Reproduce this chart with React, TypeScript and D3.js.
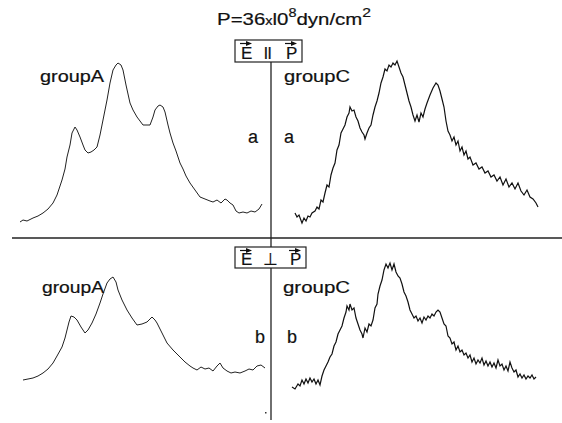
import React from "react";
import * as d3 from "d3";

// channel (x) vs intensity (y) for each trace
const groupA_par: [number, number][] = [
  [5, 3], [8, 5], [12, 4], [18, 7], [23, 9], [28, 12], [33, 16], [38, 22], [42, 30], [47, 45], [50, 56], [52, 68], [55, 80], [57, 92], [60, 98], [62, 95], [65, 88], [68, 80], [70, 75], [73, 72], [76, 73], [79, 75], [82, 78], [85, 90], [88, 105], [92, 125], [95, 142], [98, 155], [101, 160], [103, 162], [106, 160], [108, 155], [111, 140], [115, 122], [118, 115], [122, 108], [125, 104], [128, 100], [132, 100], [135, 100], [138, 108], [140, 115], [143, 119], [145, 120], [148, 118], [150, 113], [153, 100], [155, 92], [158, 82], [161, 74], [165, 62], [168, 56], [171, 49], [175, 42], [180, 35], [185, 28], [190, 26], [195, 24], [198, 23], [202, 25], [206, 22], [210, 26], [212, 25], [215, 22], [218, 20], [221, 14], [224, 12], [228, 13], [232, 12], [236, 14], [240, 13], [244, 16], [247, 21]
];

const groupC_par: [number, number][] = [
  [5, 12], [7, 8], [9, 10], [12, 2], [14, 7], [16, 4], [18, 9], [20, 8], [22, 12], [25, 14], [27, 18], [29, 16], [31, 25], [33, 23], [35, 32], [37, 40], [39, 38], [41, 50], [43, 57], [45, 62], [47, 75], [49, 80], [51, 92], [53, 96], [55, 100], [57, 108], [59, 112], [60, 118], [62, 114], [64, 115], [66, 108], [68, 104], [70, 97], [72, 93], [74, 90], [75, 86], [77, 92], [79, 97], [81, 100], [83, 110], [85, 118], [87, 124], [89, 132], [91, 142], [93, 148], [95, 156], [97, 154], [99, 160], [101, 158], [103, 162], [105, 160], [107, 164], [109, 158], [111, 152], [113, 148], [115, 140], [117, 132], [119, 124], [121, 118], [123, 110], [125, 104], [127, 110], [129, 103], [131, 112], [133, 108], [135, 116], [137, 122], [140, 130], [143, 137], [146, 142], [148, 140], [150, 134], [152, 126], [154, 118], [156, 104], [158, 94], [160, 90], [162, 84], [164, 88], [166, 80], [168, 84], [170, 74], [172, 78], [174, 70], [176, 74], [178, 66], [180, 68], [183, 60], [186, 62], [189, 56], [192, 58], [195, 52], [198, 54], [201, 48], [204, 50], [207, 44], [210, 48], [213, 40], [216, 46], [219, 38], [222, 42], [225, 36], [228, 42], [231, 34], [234, 30], [237, 35], [240, 28], [243, 26], [246, 22], [248, 18]
];

const groupA_perp: [number, number][] = [
  [8, 10], [13, 11], [18, 12], [23, 14], [28, 17], [33, 21], [38, 27], [42, 34], [47, 43], [50, 52], [52, 60], [54, 68], [56, 74], [59, 73], [62, 70], [66, 63], [70, 57], [73, 60], [77, 67], [81, 76], [85, 87], [88, 96], [92, 107], [95, 111], [98, 113], [101, 108], [103, 100], [107, 90], [112, 80], [117, 72], [122, 65], [127, 66], [132, 68], [135, 71], [137, 73], [140, 70], [142, 67], [147, 57], [152, 47], [158, 40], [165, 33], [170, 28], [175, 24], [178, 22], [182, 20], [186, 23], [190, 21], [194, 22], [198, 19], [202, 24], [205, 27], [208, 22], [212, 19], [216, 17], [220, 18], [225, 17], [230, 19], [234, 21], [238, 20], [242, 24], [246, 25], [250, 22]
];

const groupC_perp: [number, number][] = [
  [2, 3], [5, 1], [8, 6], [10, 4], [12, 10], [14, 6], [16, 11], [18, 7], [20, 12], [22, 8], [24, 11], [26, 6], [28, 10], [30, 5], [32, 14], [34, 20], [36, 24], [38, 28], [40, 33], [42, 36], [44, 44], [46, 48], [48, 56], [50, 60], [52, 64], [54, 72], [56, 78], [57, 84], [59, 80], [60, 86], [62, 80], [64, 82], [66, 72], [68, 66], [70, 60], [72, 56], [73, 52], [75, 62], [77, 58], [79, 66], [81, 64], [83, 70], [85, 82], [87, 86], [88, 96], [90, 104], [92, 110], [94, 120], [96, 126], [98, 122], [100, 127], [102, 120], [104, 126], [106, 118], [108, 114], [110, 112], [112, 106], [114, 98], [116, 94], [118, 88], [120, 80], [122, 76], [124, 72], [126, 74], [128, 69], [130, 72], [132, 67], [134, 73], [136, 70], [138, 74], [140, 72], [142, 76], [144, 74], [146, 78], [148, 80], [150, 78], [152, 72], [154, 66], [156, 64], [158, 54], [160, 52], [162, 46], [164, 48], [166, 40], [168, 44], [170, 38], [172, 40], [174, 35], [176, 37], [178, 32], [180, 35], [182, 28], [184, 32], [186, 26], [188, 30], [190, 27], [192, 32], [194, 25], [196, 29], [198, 24], [200, 28], [202, 23], [204, 27], [206, 22], [208, 30], [210, 24], [212, 26], [214, 20], [216, 24], [218, 19], [220, 28], [222, 22], [224, 18], [226, 20], [228, 13], [230, 16], [232, 12], [234, 15], [236, 11], [238, 14], [240, 12], [242, 15], [244, 11], [246, 13]
];

const seriesNames = ["groupA", "groupC"];
const panelLetters = ["a", "b"];

const FONT = "'Liberation Sans', Arial, sans-serif";

export default function App() {
  const W = 562, H = 423;
  const xLeft = d3.scaleLinear().domain([0, 250]).range([15, 265]);
  const xRight = d3.scaleLinear().domain([0, 250]).range([290, 540]);
  const yTop = d3.scaleLinear().domain([0, 170]).range([225, 55]);
  const yBot = d3.scaleLinear().domain([0, 170]).range([390, 220]);

  const mk = (xs: d3.ScaleLinear<number, number>, ys: d3.ScaleLinear<number, number>) =>
    d3.line<[number, number]>().x(d => xs(d[0])).y(d => ys(d[1]));

  const arrow = (x: number, y: number, w: number) => (
    <g>
      <line x1={x} y1={y} x2={x + w - 2} y2={y} stroke="#111" strokeWidth={1.2} />
      <path d={`M${x + w - 5},${y - 2.5} L${x + w + 1},${y} L${x + w - 5},${y + 2.5} Z`} fill="#111" />
    </g>
  );

  const ink = { fill: "#111", stroke: "#111", strokeWidth: 0.2 } as const;
  const labelStyle = { fontFamily: FONT, fontSize: 16, ...ink } as const;
  const letterStyle = { fontFamily: FONT, fontSize: 18, ...ink } as const;
  const boxStyle = { fontFamily: FONT, fontSize: 17, ...ink } as const;

  return (
    <svg width={W} height={H} style={{ position: "absolute", left: 0, top: 0, background: "#fff" }}>
      {/* title */}
      <text x={217} y={25} textLength={154} lengthAdjust="spacingAndGlyphs" style={{ fontFamily: FONT, fontSize: 17, ...ink }}>
        <tspan>P=36</tspan>
        <tspan fontSize={12}>x</tspan>
        <tspan>l0</tspan>
        <tspan fontSize={12} dy={-8}>8</tspan>
        <tspan dy={8}>dyn/cm</tspan>
        <tspan fontSize={13} dy={-8}>2</tspan>
      </text>

      {/* frame lines */}
      <line x1={12} y1={238} x2={562} y2={238} stroke="#222" strokeWidth={1.3} />
      <line x1={271} y1={62} x2={271} y2={248} stroke="#222" strokeWidth={1.3} />
      <line x1={271} y1={267} x2={271} y2={420} stroke="#222" strokeWidth={1.3} />

      {/* box 1 */}
      <rect x={235} y={40} width={67} height={22} fill="#fff" stroke="#222" strokeWidth={1.2} />
      <text x={241} y={59} style={boxStyle}>E</text>
      <text x={264} y={59} style={boxStyle}>ll</text>
      <text x={286} y={59} style={boxStyle}>P</text>
      {arrow(240, 43.5, 11)}
      {arrow(285, 43.5, 11)}

      {/* box 2 */}
      <rect x={235} y={247} width={71} height={21} fill="#fff" stroke="#222" strokeWidth={1.2} />
      <text x={241} y={265} style={boxStyle}>E</text>
      <text x={263} y={265} style={boxStyle}>⊥</text>
      <text x={290} y={265} style={boxStyle}>P</text>
      {arrow(240, 250.5, 11)}
      {arrow(289, 250.5, 11)}

      {/* traces */}
      <path d={mk(xLeft, yTop)(groupA_par) || ""} fill="none" stroke="#222" strokeWidth={1} />
      <path d={mk(xRight, yTop)(groupC_par) || ""} fill="none" stroke="#111" strokeWidth={1.2} />
      <path d={mk(xLeft, yBot)(groupA_perp) || ""} fill="none" stroke="#222" strokeWidth={1} />
      <path d={mk(xRight, yBot)(groupC_perp) || ""} fill="none" stroke="#111" strokeWidth={1.2} />

      {/* labels */}
      <text x={40} y={82} textLength={64} lengthAdjust="spacingAndGlyphs" style={labelStyle}>{seriesNames[0]}</text>
      <text x={284} y={82} textLength={66} lengthAdjust="spacingAndGlyphs" style={labelStyle}>{seriesNames[1]}</text>
      <text x={42} y={293} textLength={62} lengthAdjust="spacingAndGlyphs" style={labelStyle}>{seriesNames[0]}</text>
      <text x={283} y={293} textLength={67} lengthAdjust="spacingAndGlyphs" style={labelStyle}>{seriesNames[1]}</text>

      <text x={248} y={143} style={letterStyle}>{panelLetters[0]}</text>
      <text x={284} y={143} style={letterStyle}>{panelLetters[0]}</text>
      <text x={255} y={343} style={letterStyle}>{panelLetters[1]}</text>
      <text x={287} y={343} style={letterStyle}>{panelLetters[1]}</text>

      <rect x={265} y={412} width={1.5} height={1.5} fill="#333" />
    </svg>
  );
}
